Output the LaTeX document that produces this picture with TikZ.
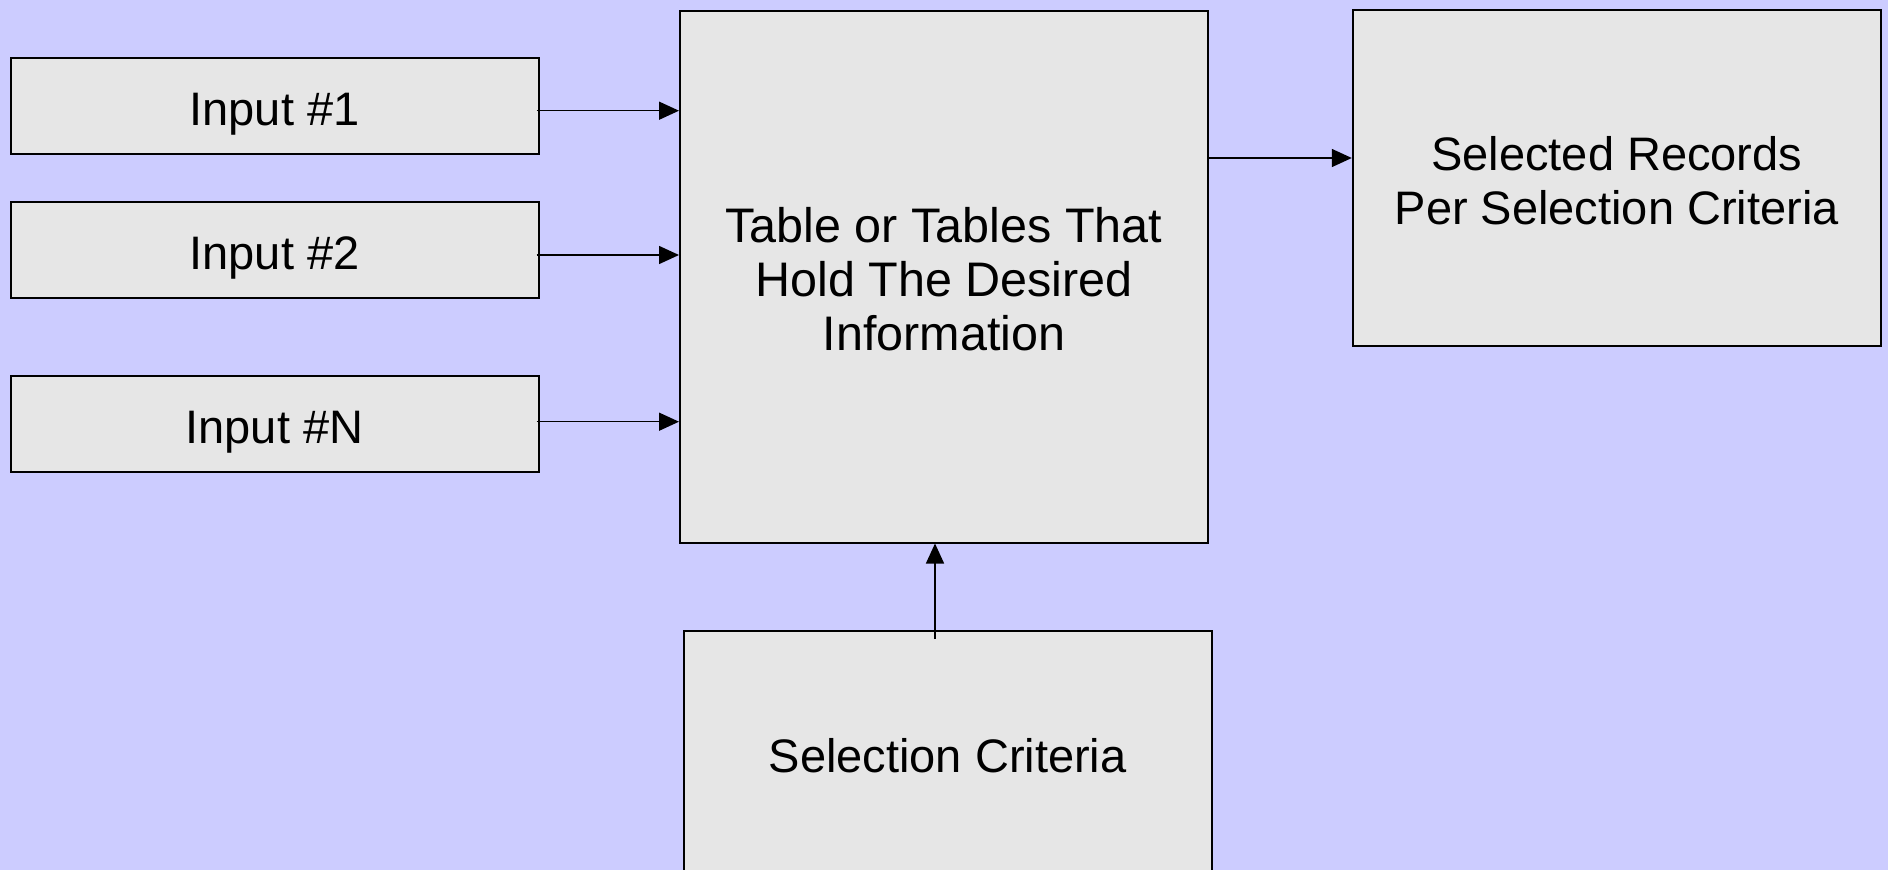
\documentclass[tikz,border=0pt]{standalone}
\usepackage{fontspec}
\setmainfont{Liberation Sans}
\usetikzlibrary{arrows.meta}
\definecolor{bgblue}{HTML}{CCCCFF}
\definecolor{boxfill}{HTML}{E6E6E6}
\newcommand{\lowstrut}[1]{\rule{0pt}{#1}}
\begin{document}
\begin{tikzpicture}[x=1pt,y=-1pt,
  blk/.style={draw=black, line width=2pt, fill=boxfill, minimum width=528pt,
              inner sep=0pt, align=center, font=\fontsize{47}{54}\selectfont},
  inbox/.style={blk, minimum height=96pt, text depth=0pt},
  conn/.style={line width=1.5pt, -{Triangle[length=20pt,width=18pt]}}]
\useasboundingbox (0,0) rectangle (1888,870);
\fill[bgblue] (0,0) rectangle (1888,870);

\node[inbox] (in1) at (274.5,105.5) {\lowstrut{39.5pt}Input \#1};
\node[inbox] (in2) at (274.5,249.5) {\lowstrut{39.5pt}Input \#2};
\node[inbox] (inN) at (274.5,423.7) {\lowstrut{39.5pt}Input \#N};
\node[blk, minimum height=532pt, font=\fontsize{48.5}{54}\selectfont] (main) at (944,276.5)
  {\lowstrut{41pt}Table or Tables That\\Hold The Desired\\Information};
\node[blk, minimum height=336pt] (out) at (1616.8,177.8)
  {\lowstrut{40.5pt}Selected Records\\Per Selection Criteria};
\node[blk, minimum height=242pt] (sel) at (947.7,752) {\lowstrut{40.5pt}Selection Criteria};

\coordinate (a1) at ([xshift=-3pt,yshift=-5.2pt]in1.east);
\coordinate (a2) at ([xshift=-3pt,yshift=-5.5pt]in2.east);
\coordinate (aN) at ([xshift=-3pt,yshift=2pt]inN.east);
\coordinate (o1) at ([yshift=-148.5pt]main.north east);
\coordinate (s1) at ([xshift=-12.7pt,yshift=-9pt]sel.north);

\draw[conn] (a1) -- (main.west |- a1);
\draw[conn] (a2) -- (main.west |- a2);
\draw[conn] (aN) -- (main.west |- aN);
\draw[conn] (o1) -- (out.west |- o1);
\draw[conn] (s1) -- (main.south -| s1);
\end{tikzpicture}
\end{document}
